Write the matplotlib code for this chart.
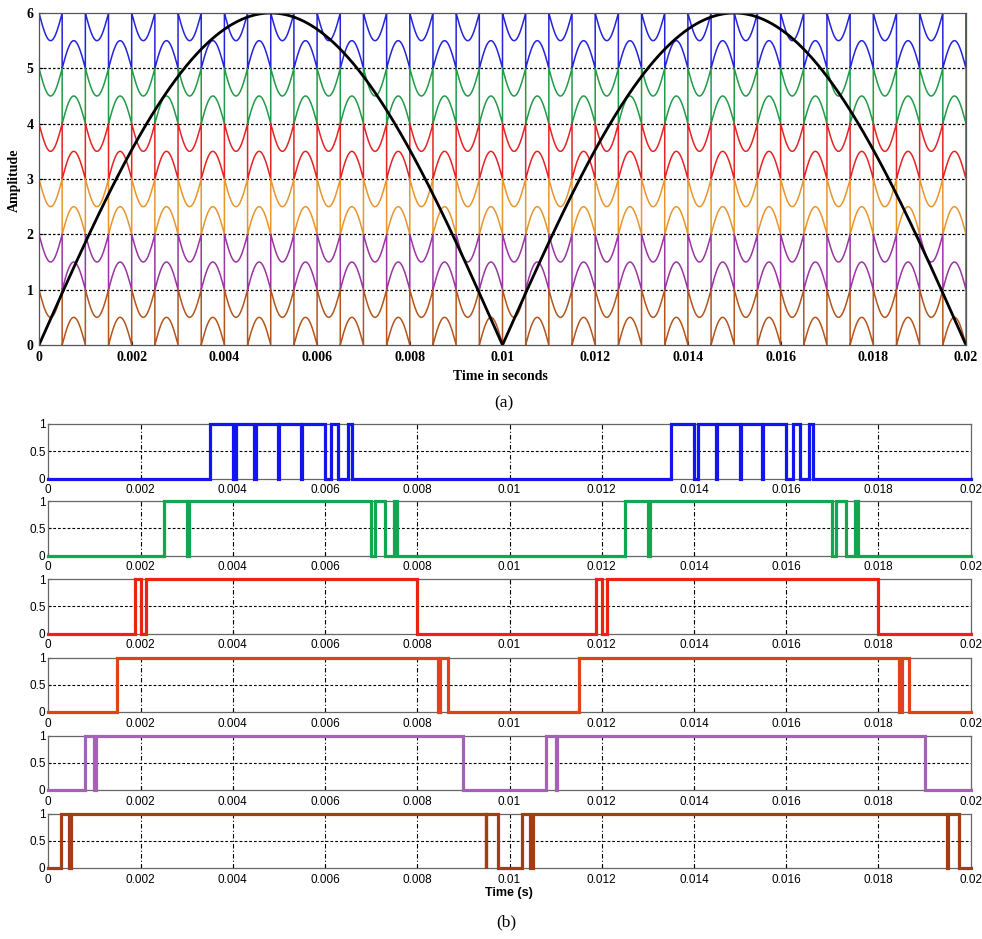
import numpy as np
import matplotlib
matplotlib.use("Agg")
import matplotlib.pyplot as plt

# --- (a) reference and level-shifted carriers (parameters)
ref_amplitude = 6.0      # peak of rectified sine
ref_freq = 50.0          # zeros at 0, 0.01, 0.02 s
carrier_period = 0.001   # one "U" half + one arch half per period
carrier_dip = 0.5        # depth of the U / height of the arch
carrier_levels = [5, 4, 3, 2, 1, 0]
top_colors = ["#2424d8", "#239a48", "#e42424", "#e8952e", "#9a35a2", "#b3551e"]

# --- (b) gate pulses: switching instants (s), every pulse starts low
blue_edges = [0.0035, 0.0040, 0.00408, 0.00447, 0.0045, 0.00499, 0.00501,
              0.00548, 0.0055, 0.0060, 0.00614, 0.00629, 0.0065, 0.00659,
              0.0135, 0.0140, 0.01408, 0.01447, 0.0145, 0.01499, 0.01501,
              0.01548, 0.0155, 0.0160, 0.01614, 0.01629, 0.0165, 0.01659]
green_edges = [0.0025, 0.0030, 0.00304, 0.0070, 0.00708, 0.00729, 0.0075,
               0.00756, 0.0125, 0.0130, 0.01304, 0.0170, 0.01708, 0.01729,
               0.0175, 0.01756]
red_edges = [0.00188, 0.0020, 0.00211, 0.0080, 0.01188, 0.0120, 0.01211, 0.0180]
orange_edges = [0.0015, 0.00844, 0.0085, 0.00867, 0.0115, 0.01844, 0.0185, 0.01867]
purple_edges = [0.00079, 0.0010, 0.00103, 0.0090, 0.01079, 0.0110, 0.01103, 0.0190]
brown_edges = [0.00027, 0.00045, 0.0005, 0.00949, 0.0095, 0.00974, 0.01027,
               0.01045, 0.0105, 0.01949, 0.0195, 0.01974]
pulse_edges = [blue_edges, green_edges, red_edges, orange_edges, purple_edges, brown_edges]
pulse_colors = ["#1414f0", "#12a650", "#ec2212", "#e0421a", "#a462b2", "#a43c14"]

t_end = 0.02
x_ticks = [0, 0.002, 0.004, 0.006, 0.008, 0.01, 0.012, 0.014, 0.016, 0.018, 0.02]
x_labels = ["0", "0.002", "0.004", "0.006", "0.008", "0.01", "0.012", "0.014",
            "0.016", "0.018", "0.02"]
top_y_ticks = [0, 1, 2, 3, 4, 5, 6]
pulse_y_ticks = [0, 0.5, 1]
pulse_y_labels = ["0", "0.5", "1"]

SERIF = ["Liberation Serif", "DejaVu Serif"]
SANS = ["Liberation Sans", "DejaVu Sans"]


def step_xy(edges):
    xs, ys = [0.0], [0]
    state = 0
    for e in edges:
        xs += [e, e]
        ys += [state, 1 - state]
        state = 1 - state
    xs.append(t_end)
    ys.append(state)
    return xs, ys


fig = plt.figure(figsize=(9.82, 9.39), dpi=100)
W, H = 982.0, 939.0

# ---------------- (a)
ax = fig.add_axes([39 / W, 1 - 345 / H, 927 / W, 332 / H])
t = np.linspace(0, t_end, 200001)
ph = (t % carrier_period) / (carrier_period / 2)
unit = np.where(ph < 1, 1 - carrier_dip * np.sin(np.pi * ph),
                carrier_dip * np.sin(np.pi * (ph - 1)))
ref = ref_amplitude * np.abs(np.sin(2 * np.pi * ref_freq * t))
for lv, c in zip(carrier_levels, top_colors):
    ax.plot(t, lv + unit, color=c, lw=1.1)
ax.plot(t, ref, color="black", lw=2.0)
for lv in carrier_levels[:-1]:
    ax.axhline(lv, color="black", lw=0.9, ls=(0, (2, 1.6)), zorder=0.5)
ax.set_xlim(0, t_end)
ax.set_ylim(0, 6)
ax.set_xticks(x_ticks)
ax.set_xticklabels(x_labels)
ax.set_yticks(top_y_ticks)
ax.tick_params(direction="in", length=3, labelsize=10, pad=4)
for lab in ax.get_xticklabels() + ax.get_yticklabels():
    lab.set_family(SERIF)
    lab.set_fontweight("bold")
for s in ax.spines.values():
    s.set_color("#555555")
    s.set_linewidth(0.9)
fig.text(14 / W, 1 - 180 / H, "Amplitude", rotation=90, ha="center", va="center",
         family=SERIF, fontweight="bold", fontsize=10)
fig.text(500 / W, 1 - 376 / H, "Time in seconds", ha="center", va="center",
         family=SERIF, fontweight="bold", fontsize=10)
fig.text(504 / W, 1 - 403 / H, "(a)", ha="center", va="center",
         family=SERIF, fontsize=12.5)

# ---------------- (b)
panel_tops = [424, 501, 579, 657.5, 735.5, 813.5]
panel_h = 54.5
for top, edges, c in zip(panel_tops, pulse_edges, pulse_colors):
    bx = fig.add_axes([48.3 / W, 1 - (top + panel_h) / H, 922.4 / W, panel_h / H])
    xs, ys = step_xy(edges)
    bx.plot(xs, ys, color=c, lw=2.3, clip_on=False, zorder=3,
            solid_joinstyle="miter")
    bx.set_xlim(0, t_end)
    bx.set_ylim(0, 1)
    bx.set_xticks(x_ticks)
    bx.set_xticklabels(x_labels)
    bx.set_yticks(pulse_y_ticks)
    bx.set_yticklabels(pulse_y_labels)
    for xv in x_ticks[1:-1]:
        bx.axvline(xv, color="black", lw=0.8, ls=(0, (4, 2, 1, 2)), zorder=1)
    bx.axhline(0.5, color="black", lw=0.8, ls=(0, (2.5, 1.8)), zorder=1)
    bx.tick_params(direction="in", length=2.5, labelsize=8.5, pad=2)
    bx.tick_params(axis="x", pad=4)
    for lab in bx.get_xticklabels() + bx.get_yticklabels():
        lab.set_family(SANS)
    for s in bx.spines.values():
        s.set_color("#666666")
        s.set_linewidth(0.9)

fig.text(509 / W, 1 - 893 / H, "Time (s)", ha="center", va="center",
         family=SANS, fontweight="bold", fontsize=9)
fig.text(506 / W, 1 - 922 / H, "(b)", ha="center", va="center",
         family=SERIF, fontsize=12.5)

fig.savefig("out.png", dpi=100)
